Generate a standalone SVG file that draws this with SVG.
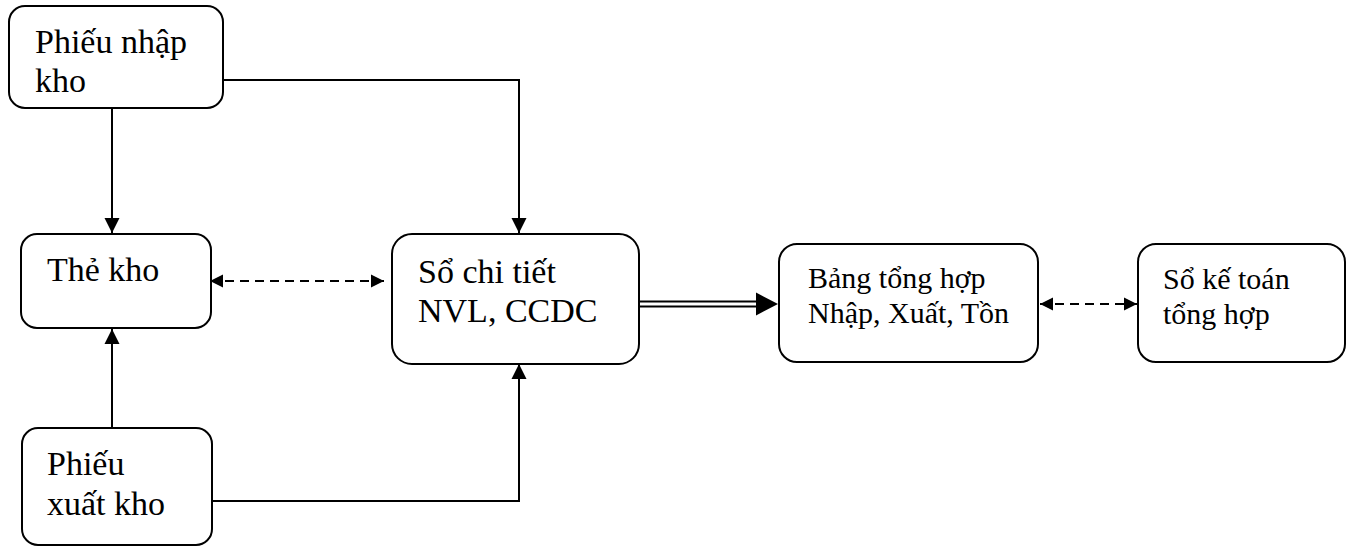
<svg xmlns="http://www.w3.org/2000/svg" width="1354" height="547" viewBox="0 0 1354 547" font-family="'Liberation Serif', 'DejaVu Serif', serif">
  <style>
    .box { fill: #ffffff; stroke: #000000; stroke-width: 2; }
    text { font-family: 'Liberation Serif', 'DejaVu Serif', serif; fill: #000000; }
    .big { font-size: 34px; }
    .small { font-size: 30px; }
    .wire { fill: none; stroke: #000000; stroke-width: 2; }
    .dash { fill: none; stroke: #000000; stroke-width: 2.2; stroke-dasharray: 9 6; }
  </style>
  <defs>
    <marker id="arrow" markerUnits="userSpaceOnUse" markerWidth="16" markerHeight="16" refX="15" refY="8" orient="auto">
      <path d="M0,0.5 L15,8 L0,15.5 Z" fill="#000000"/>
    </marker>
    <marker id="arrowSmall" markerUnits="userSpaceOnUse" markerWidth="14" markerHeight="14" refX="13" refY="7" orient="auto-start-reverse">
      <path d="M0,0.5 L13,7 L0,13.5 Z" fill="#000000"/>
    </marker>
  </defs>

  <rect width="1354" height="547" fill="#ffffff"/>

  <!-- connectors -->
  <g id="connectors">
    <!-- Phiếu nhập kho -> Thẻ kho -->
    <path class="wire" d="M112,108 L112,233" marker-end="url(#arrow)"/>
    <!-- Phiếu nhập kho -> Sổ chi tiết -->
    <path class="wire" d="M223,80 L519,80 L519,233" marker-end="url(#arrow)"/>
    <!-- Phiếu xuất kho -> Thẻ kho -->
    <path class="wire" d="M112,427 L112,329" marker-end="url(#arrow)"/>
    <!-- Phiếu xuất kho -> Sổ chi tiết -->
    <path class="wire" d="M212,501 L519,501 L519,364" marker-end="url(#arrow)"/>
    <!-- Thẻ kho <-> Sổ chi tiết -->
    <path class="dash" d="M210,281 L384,281" marker-start="url(#arrowSmall)" marker-end="url(#arrowSmall)"/>
    <!-- Sổ chi tiết => Bảng tổng hợp (double line) -->
    <path class="wire" d="M639,301.5 L758,301.5"/>
    <path class="wire" d="M639,306.5 L758,306.5"/>
    <path d="M756,292.5 L778,304 L756,315.5 Z" fill="#000000"/>
    <!-- Bảng tổng hợp <-> Sổ kế toán tổng hợp -->
    <path class="dash" d="M1040,304 L1137,304" marker-start="url(#arrowSmall)" marker-end="url(#arrowSmall)"/>
  </g>

  <!-- nodes -->
  <g id="phieu-nhap-kho">
    <rect class="box" x="9" y="6" width="214" height="102" rx="16" ry="16"/>
    <text class="big" x="35" y="53">Phiếu nhập</text>
    <text class="big" x="35" y="92">kho</text>
  </g>

  <g id="the-kho">
    <rect class="box" x="21" y="234" width="190" height="94" rx="16" ry="16"/>
    <text class="big" x="47" y="281">Thẻ kho</text>
  </g>

  <g id="phieu-xuat-kho">
    <rect class="box" x="22" y="428" width="190" height="117" rx="16" ry="16"/>
    <text class="big" x="47" y="475">Phiếu</text>
    <text class="big" x="47" y="515">xuất kho</text>
  </g>

  <g id="so-chi-tiet">
    <rect class="box" x="392" y="234" width="247" height="130" rx="20" ry="20"/>
    <text class="big" x="418" y="283">Sổ chi tiết</text>
    <text class="big" x="418" y="322">NVL, CCDC</text>
  </g>

  <g id="bang-tong-hop">
    <rect class="box" x="779" y="244" width="259" height="118" rx="18" ry="18"/>
    <text class="small" x="808" y="288">Bảng tổng hợp</text>
    <text class="small" x="808" y="323">Nhập, Xuất, Tồn</text>
  </g>

  <g id="so-ke-toan-tong-hop">
    <rect class="box" x="1138" y="244" width="207" height="118" rx="18" ry="18"/>
    <text class="small" x="1163" y="289">Sổ kế toán</text>
    <text class="small" x="1163" y="324">tổng hợp</text>
  </g>
</svg>
